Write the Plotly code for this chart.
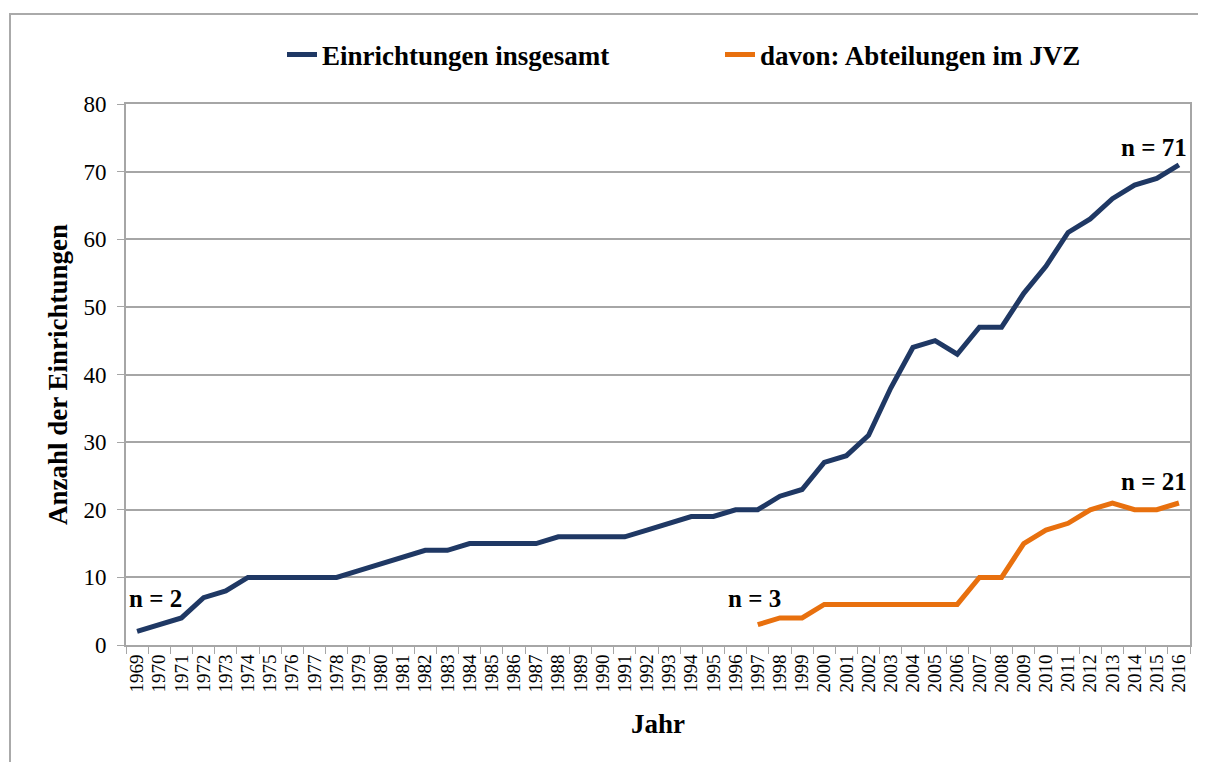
import plotly.graph_objects as go

years = [str(y) for y in range(1969, 2017)]
total = [2, 3, 4, 7, 8, 10, 10, 10, 10, 10, 11, 12, 13, 14, 14, 15, 15, 15, 15, 16,
         16, 16, 16, 17, 18, 19, 19, 20, 20, 22, 23, 27, 28, 31, 38, 44, 45, 43, 47, 47,
         52, 56, 61, 63, 66, 68, 69, 71]
jvz_years = [str(y) for y in range(1997, 2017)]
jvz = [3, 4, 4, 6, 6, 6, 6, 6, 6, 6, 10, 10, 15, 17, 18, 20, 21, 20, 20, 21]

labels = [("1969", 2, "n = 2"), ("1997", 3, "n = 3"), ("2016", 71, "n = 71"), ("2016", 21, "n = 21")]

FONT = "Liberation Serif"
BLUE = "#1F3864"
ORANGE = "#E8700E"
GRAY = "#A6A6A6"

fig = go.Figure()
fig.add_trace(go.Scatter(x=years, y=total, mode="lines", name="<b>Einrichtungen insgesamt</b>",
                         line=dict(color=BLUE, width=5), legend="legend"))
fig.add_trace(go.Scatter(x=jvz_years, y=jvz, mode="lines", name="<b>davon: Abteilungen im JVZ</b>",
                         line=dict(color=ORANGE, width=5), legend="legend2"))

# offsets of the labels relative to their data point (pixels)
ann_pos = {
    "n = 2": (18, 33),
    "n = 3": (-3, 26),
    "n = 71": (-25, 17),
    "n = 21": (-25, 21),
}
for x, y, t in labels:
    dx, dy = ann_pos[t]
    fig.add_annotation(x=years.index(x), y=y, text="<b>%s</b>" % t, showarrow=False,
                       xanchor="center", yanchor="middle", xshift=dx, yshift=dy,
                       font=dict(family=FONT, size=25, color="black"))

# page body has an 8px margin; compensate so the picture lands where the reference is
OFF = 8
W, H = 1206 - OFF, 762 - OFF
PL, PR, PT, PB = 126, 1190, 104, 645   # plot area in reference pixels
L, R, T, B = PL - OFF, W - (PR - OFF), PT - OFF, H - (PB - OFF)
pw, ph = PR - PL, PB - PT

def px2x(px):
    return (px - PL) / pw

def py2y(py):
    return (PB - py) / ph

fig.add_shape(type="rect", xref="paper", yref="paper",
              x0=px2x(10), x1=px2x(1240), y0=py2y(800), y1=py2y(14),
              line=dict(color="#AAAAAA", width=2), fillcolor="rgba(0,0,0,0)", layer="below")

leg_common = dict(orientation="h", yanchor="middle", y=py2y(55), xanchor="left",
                  font=dict(family=FONT, size=27, color="black"), bgcolor="rgba(0,0,0,0)")

fig.update_layout(
    width=W, height=H,
    margin=dict(l=L, r=R, t=T, b=B),
    paper_bgcolor="white", plot_bgcolor="white",
    font=dict(family=FONT, color="black"),
    showlegend=True,
    legend=dict(x=px2x(282), **leg_common),
    legend2=dict(x=px2x(720), **leg_common),
    xaxis=dict(type="category", categoryorder="array", categoryarray=years,
               range=[-0.5, len(years) - 0.5], dtick=1, tickmode="linear",
               tickangle=-90, tickfont=dict(family=FONT, size=19),
               ticks="outside", ticklen=7, tickcolor=GRAY, tickson="boundaries",
               showline=True, linecolor=GRAY, linewidth=2, mirror=True,
               showgrid=False, automargin=False,
               title=dict(text="<b>Jahr</b>", font=dict(family=FONT, size=27), standoff=23)),
    yaxis=dict(range=[0, 80], dtick=10, tickfont=dict(family=FONT, size=23),
               ticks="outside", ticklen=7, tickcolor=GRAY, ticklabelstandoff=6,
               showline=True, linecolor=GRAY, linewidth=2, mirror=True,
               showgrid=True, gridcolor=GRAY, gridwidth=1.5, zeroline=False,
               automargin=False,
               title=dict(text="<b>Anzahl der Einrichtungen</b>", font=dict(family=FONT, size=27), standoff=8)),
)

fig.write_html("out.html")
